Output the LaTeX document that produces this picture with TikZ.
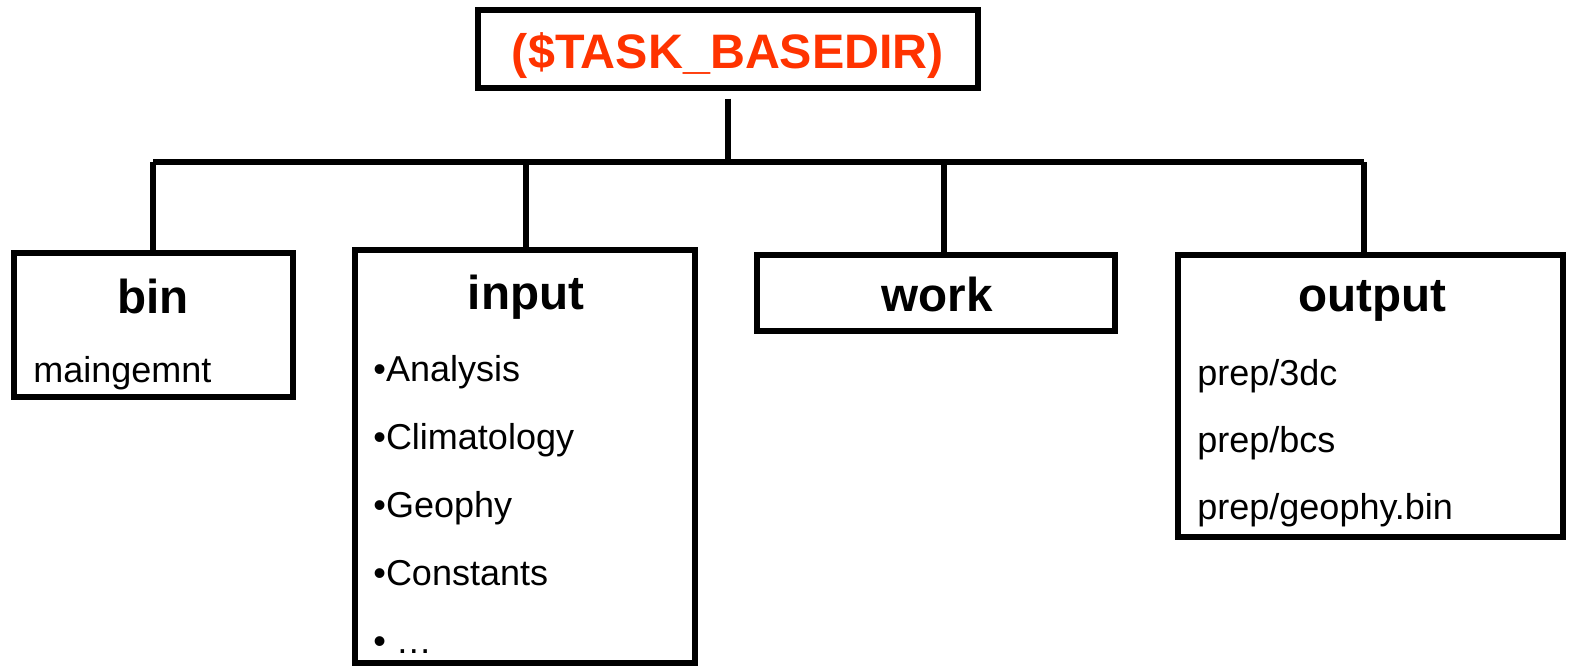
\documentclass[tikz,border=0pt]{standalone}
\usepackage{fontspec}
\setmainfont{Liberation Sans}
\usepackage{tikz}
\usetikzlibrary{calc,positioning}
\definecolor{dirred}{HTML}{FF3300}

\begin{document}
\begin{tikzpicture}[x=0.5pt,y=-0.5pt,
  dirbox/.style={draw,line width=2.7pt,inner sep=0,rectangle},
  dirtitle/.style={anchor=base,inner sep=0,font=\fontsize{23.8}{28}\selectfont\bfseries},
  diritem/.style={anchor=base west,inner sep=0,font=\fontsize{18}{21}\selectfont}]
\useasboundingbox (0,0) rectangle (1573,669);
% directory boxes
\node[dirbox,minimum width=250pt,minimum height=39pt] (base) at (728,49){};
\node[dirbox,minimum width=139.5pt,minimum height=72pt] (bin) at (153.5,325){};
\node[dirbox,minimum width=170pt,minimum height=206.5pt] (input) at (525,456.5){};
\node[dirbox,minimum width=179pt,minimum height=38pt] (work) at (936,293){};
\node[dirbox,minimum width=192.5pt,minimum height=141pt] (output) at (1370.5,396){};
% titles
\node[anchor=base,inner sep=0,text=dirred,font=\fontsize{24.2}{28}\selectfont\bfseries] (basename) at (728,68){(\$TASK\_BASEDIR)};
\node[dirtitle] (binname) at (153,313){bin};
\node[dirtitle] (inputname) at (526,309){input};
\node[dirtitle] (workname) at (937,311){work};
\node[dirtitle] (outputname) at (1372,311){output};
% contents
\node[diritem] (main) at (33,382){maingemnt};
\node[diritem] (ana) at (373,381){•Analysis};
\node[diritem] (clim) at (373,449){•Climatology};
\node[diritem] (geo) at (373,517){•Geophy};
\node[diritem] (const) at (373,585){•Constants};
\node[diritem] (more) at (373,653){• …};
\node[diritem] (tdc) at (1197,385){prep/3dc};
\node[diritem] (bcs) at (1197,452){prep/bcs};
\node[diritem] (gbin) at (1197,519){prep/geophy.bin};
% tree lines
\coordinate (bar) at (728,162);
\coordinate (d1) at (153,162);
\coordinate (d2) at (526,162);
\coordinate (d3) at (944,162);
\coordinate (d4) at (1364,162);
\draw[line width=2.7pt] ([yshift=-4pt]base.south) -- (bar);
\draw[line width=2.7pt] (d1) -- (d4);
\draw[line width=2.7pt] (d1) -- (d1 |- bin.north);
\draw[line width=2.7pt] (d2) -- (d2 |- input.north);
\draw[line width=2.7pt] (d3) -- (d3 |- work.north);
\draw[line width=2.7pt] (d4) -- (d4 |- output.north);
\end{tikzpicture}
\end{document}
